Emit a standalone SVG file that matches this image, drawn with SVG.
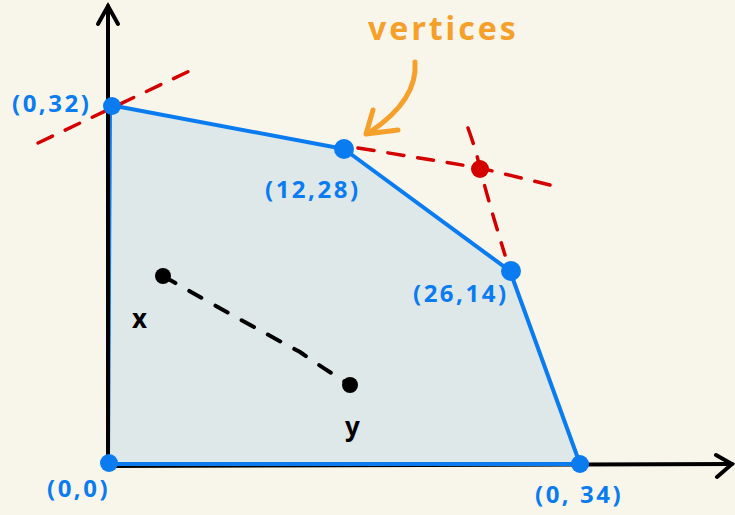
<svg xmlns="http://www.w3.org/2000/svg" width="735" height="515" viewBox="0 0 735 515">
<style>
.lbl{font-family:"Noto Sans","DejaVu Sans",sans-serif;font-weight:bold;fill:#0a7cf0;font-size:24px;letter-spacing:2.5px}
.red{stroke:#d40000;stroke-width:3.5;fill:none;stroke-linecap:round;stroke-dasharray:16 14}
.blk{stroke:#000;stroke-width:4;fill:none;stroke-linecap:round}
.vtx{fill:#0a7cf0}
</style>
<rect width="735" height="515" fill="#f8f6eb"/>
<g id="region">
<polygon points="110,105 344,149 510,271 580,464 108,464" fill="#dfe8e8" stroke="#0a7cf0" stroke-width="4" stroke-linejoin="round"/>
</g>
<g id="axes">
<line x1="108" y1="466" x2="108" y2="6" class="blk"/>
<polyline points="98,24 108,6 118,24" class="blk" stroke-width="5"/>
<line x1="110" y1="466" x2="732" y2="464" class="blk"/>
<polyline points="716,455 732,464 717,477" class="blk" stroke-width="5"/>
<line x1="110" y1="464" x2="580" y2="464" stroke="#0a7cf0" stroke-width="4"/>
</g>
<g id="connectors">
<path d="M38,143 L200,66" class="red"/>
<path d="M358,148 Q420,158 480,168 L550,185" class="red"/>
<path d="M468,128 Q476,150 480,168 Q488,200 505,255" class="red" stroke-dasharray="12 13"/>
<path d="M163,276 Q240,320 300,352 Q320,366 350,385" class="blk" stroke-dasharray="14 16"/>
<path d="M415,62 Q418,100 370,132" stroke="#f5a02a" stroke-width="5" fill="none" stroke-linecap="round"/>
<polyline points="373,110 366,134 398,130" stroke="#f5a02a" stroke-width="5" fill="none" stroke-linecap="round" stroke-linejoin="round"/>
</g>
<g id="v1"><circle cx="112" cy="106" r="9" class="vtx"/><text x="12" y="112" class="lbl">(0,32)</text></g>
<g id="v2"><circle cx="344" cy="149" r="10" class="vtx"/><text x="265" y="198" class="lbl">(12,28)</text></g>
<g id="v3"><circle cx="511" cy="271" r="10" class="vtx"/><text x="413" y="302" class="lbl">(26,14)</text></g>
<g id="v4"><circle cx="109" cy="463" r="9" class="vtx"/><text x="47" y="497" class="lbl">(0,0)</text></g>
<g id="v5"><circle cx="580" cy="464" r="9" class="vtx"/><text x="535" y="503" class="lbl">(0, 34)</text></g>
<g id="intersection"><circle cx="480" cy="169" r="9" fill="#d40000"/></g>
<g id="x"><circle cx="163" cy="276" r="8" fill="#000"/><text x="132" y="328" font-family="Noto Sans,sans-serif" font-weight="bold" font-size="26" fill="#000">x</text></g>
<g id="y"><circle cx="350" cy="385" r="8" fill="#000"/><text x="345" y="436" font-family="Noto Sans,sans-serif" font-weight="bold" font-size="26" fill="#000">y</text></g>
<g id="note"><text x="368" y="40" font-family="Noto Sans,sans-serif" font-weight="bold" font-size="32" fill="#f5a02a" letter-spacing="3">vertices</text></g>
</svg>
